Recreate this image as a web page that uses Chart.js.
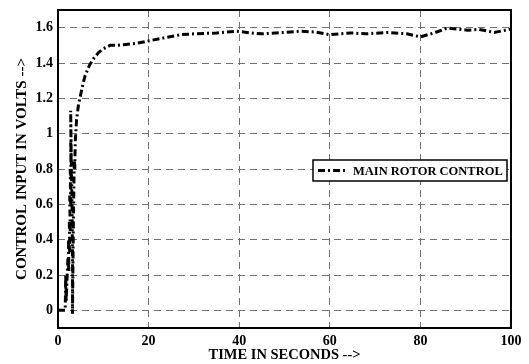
<!DOCTYPE html>
<html>
<head>
<meta charset="utf-8">
<script src="https://cdn.jsdelivr.net/npm/chart.js@4/dist/chart.umd.min.js"></script>
<style>
html,body{margin:0;padding:0;background:#fff;}
#wrap{width:529px;height:364px;position:relative;}
</style>
</head>
<body>
<div id="wrap"><canvas id="c" width="529" height="364"></canvas></div>
<script>
// ---- data ----
const timeSec = [0,1.5,1.6,1.7,1.8,2.0,2.2,2.4,2.3,2.6,2.5,2.7,2.6,2.8,2.7,2.9,2.8,2.9,2.8,2.9,3.1,3.2,3.2,3.3,3.4,3.5,3.6,3.7,3.8,4.1,4.5,5,5.5,6,7,8,9,10,11.5,13,15,17,20,23,27,30,35,39.5,42.5,45,48,53.5,57,60,64.6,68,72.6,77,80,83,86,90.4,93,96.3,100];
const controlVolts = [0,0,0,0.2,0.05,0.18,0.3,0.22,0.4,0.33,0.5,0.45,0.65,0.6,0.8,0.75,0.95,0.85,1.13,0.9,0.6,0.3,-0.02,0.25,0.5,0.7,0.85,0.8,0.95,1.08,1.16,1.22,1.28,1.33,1.39,1.43,1.46,1.48,1.5,1.5,1.505,1.51,1.525,1.54,1.56,1.565,1.57,1.58,1.57,1.565,1.57,1.58,1.575,1.56,1.57,1.565,1.573,1.565,1.548,1.57,1.598,1.586,1.59,1.573,1.592];
const xTicks = [0,20,40,60,80,100];
const yTicks = [0,0.2,0.4,0.6,0.8,1,1.2,1.4,1.6];
const seriesName = 'MAIN ROTOR CONTROL';
const xTitle = 'TIME IN SECONDS -->';
const yTitle = 'CONTROL INPUT IN VOLTS -->';

const pts = timeSec.map((t,i)=>({x:t,y:controlVolts[i]}));
const FONT = "'Liberation Serif','Times New Roman',serif";
const DASH = [7,3,2,3];
const GRID_DASH = [7,5];

const framePlugin = {
  id:'frame',
  afterDraw(chart){
    const {ctx, chartArea:a} = chart;
    ctx.save();
    ctx.strokeStyle='#000'; ctx.lineWidth=2; ctx.setLineDash([]);
    ctx.strokeRect(a.left, a.top, a.right-a.left, a.bottom-a.top);
    // legend box
    const lx=313, ly=160, lw=194, lh=21;
    ctx.fillStyle='#fff';
    ctx.fillRect(lx,ly,lw,lh);
    ctx.lineWidth=1.5;
    ctx.strokeRect(lx,ly,lw,lh);
    ctx.lineWidth=3; ctx.setLineDash(DASH);
    ctx.beginPath(); ctx.moveTo(lx+5, ly+lh/2); ctx.lineTo(lx+33, ly+lh/2); ctx.stroke();
    ctx.setLineDash([]);
    ctx.fillStyle='#000';
    ctx.font="bold 12.5px "+FONT;
    ctx.textBaseline='middle';
    ctx.fillText(seriesName, lx+40, ly+lh/2+1);
    ctx.restore();
  }
};

new Chart(document.getElementById('c'), {
  type:'scatter',
  data:{datasets:[{
    label:seriesName, data:pts, showLine:true, pointRadius:0,
    borderColor:'#000', borderWidth:3, borderDash:DASH, tension:0, fill:false
  }]},
  options:{
    responsive:false, animation:false,
    layout:{padding:{top:10,right:18,left:0,bottom:0}},
    plugins:{legend:{display:false}, tooltip:{enabled:false}},
    scales:{
      x:{
        type:'linear', min:0, max:100,
        afterBuildTicks(s){ s.ticks = xTicks.map(v=>({value:v})); },
        afterFit(s){ s.height=36; s.paddingLeft=0; s.paddingRight=0; },
        grid:{color:'#707070', lineWidth:1, drawTicks:false},
        border:{display:false, dash:GRID_DASH},
        ticks:{color:'#000', padding:5, maxRotation:0, font:{family:FONT, size:14, weight:'bold'}},
        title:{display:true, text:xTitle, color:'#000', padding:{top:0,bottom:0}, font:{family:FONT,size:14.5,weight:'bold'}}
      },
      y:{
        type:'linear', min:-0.1, max:1.7,
        afterBuildTicks(s){ s.ticks = yTicks.map(v=>({value:v})); },
        afterFit(s){ s.width=58; s.paddingTop=0; s.paddingBottom=0; },
        grid:{color:'#707070', lineWidth:1, drawTicks:false},
        border:{display:false, dash:GRID_DASH},
        ticks:{color:'#000', padding:5, callback:v=>String(Number(v.toFixed(1))), font:{family:FONT, size:14, weight:'bold'}},
        title:{display:true, text:yTitle, color:'#000', padding:{top:13,bottom:0}, font:{family:FONT,size:15,weight:'bold'}}
      }
    }
  },
  plugins:[framePlugin]
});
</script>
</body>
</html>
